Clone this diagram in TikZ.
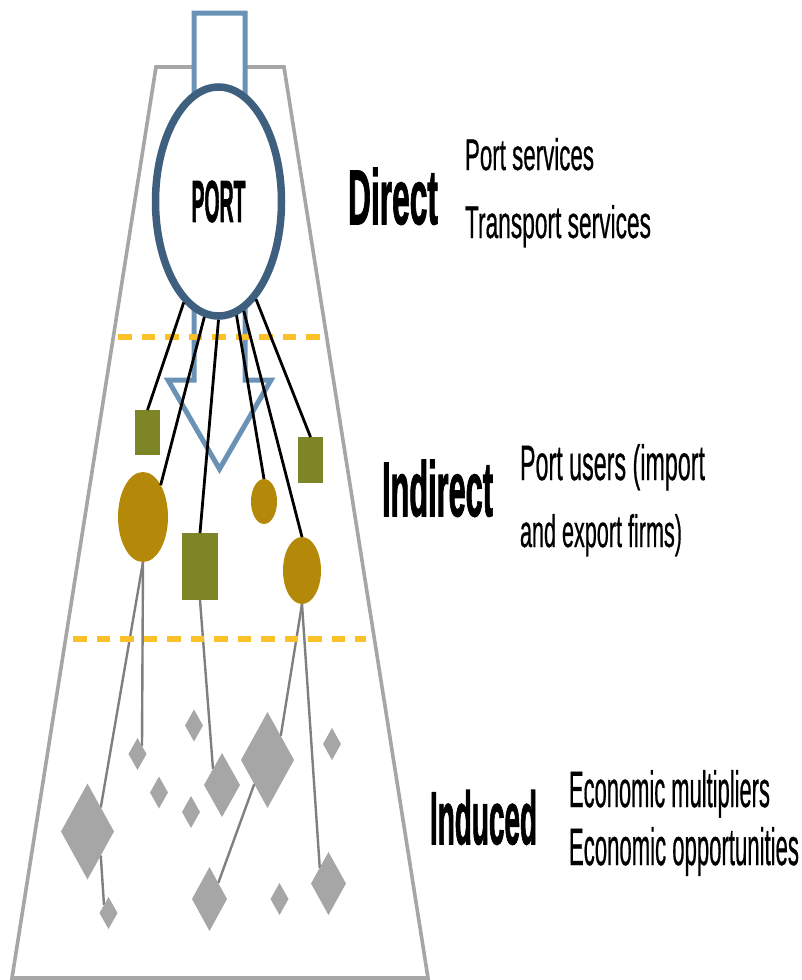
\documentclass[tikz,border=0pt]{standalone}
\usepackage{fontspec}
\setmainfont{Liberation Sans}
\newfontfamily\labfont[FakeBold=2]{Liberation Sans Bold}
\newfontfamily\txtfont[FakeBold=0.8]{Liberation Sans}
\usetikzlibrary{shapes.geometric}
\pgfdeclarelayer{back}
\pgfdeclarelayer{links}
\pgfsetlayers{back,links,main}
\definecolor{trapgray}{HTML}{A6A6A6}
\definecolor{linkgray}{HTML}{7F7F7F}
\definecolor{gemgray}{HTML}{A6A6A6}
\definecolor{portblue}{HTML}{3F5F7E}
\definecolor{arrowblue}{HTML}{6A92B6}
\definecolor{dashyellow}{HTML}{FBC02A}
\definecolor{olivegreen}{HTML}{7D8527}
\definecolor{goldbrown}{HTML}{B48808}
\newcommand{\fitbox}[3]{\resizebox{#1pt}{#2pt}{#3}}
\begin{document}
\begin{tikzpicture}[x=1pt,y=-1pt,
  sqbox/.style={rectangle, fill=olivegreen, draw=none, inner sep=0pt, outer sep=0pt},
  blob/.style={ellipse, fill=goldbrown, draw=none, inner sep=0pt, outer sep=0pt},
  gem/.style={diamond, fill=gemgray, draw=none, inner sep=0pt, outer sep=0pt},
  smallgem/.style={gem, minimum width=18pt, minimum height=32pt},
  feed/.style={black, line width=2.8pt},
  link/.style={linkgray, line width=2.4pt},
  levelline/.style={dashyellow, line width=5.5pt, dash pattern=on 13.5pt off 10pt},
  lab/.style={anchor=base west, inner sep=0pt, outer sep=0pt, font=\labfont},
  txt/.style={anchor=base west, inner sep=0pt, outer sep=0pt, font=\txtfont}
]
\useasboundingbox (0,0) rectangle (801,980);

\begin{pgfonlayer}{back}
\draw[trapgray, line width=3.6pt, line join=miter] (156,67) -- (284,67) -- (428,978) -- (12,978) -- cycle;
\end{pgfonlayer}

% big blue arrow
\draw[arrowblue, fill=white, line width=5pt, line join=miter]
  (194,13) -- (245,13) -- (245,380) -- (271,380) -- (219.5,469) -- (168,380) -- (194,380) -- cycle;

% level separators
\draw[levelline] (118,337) -- (323,337);
\draw[levelline] (73,639) -- (366,639);

% port
\node[ellipse, draw=portblue, fill=white, line width=7.5pt, minimum width=126pt, minimum height=229pt, inner sep=0pt, font=\labfont]
  (port) at (218.5,201.5) {\fitbox{54}{41}{PORT}};

% indirect actors
\node[sqbox, minimum width=25pt, minimum height=45pt] (sq1) at (147.5,432.5) {};
\node[sqbox, minimum width=25pt, minimum height=46pt] (sq2) at (310.5,460) {};
\node[sqbox, minimum width=36pt, minimum height=67pt] (bsq) at (200,566.5) {};
\node[blob, minimum width=50pt, minimum height=90pt] (e1) at (143,517) {};
\node[blob, minimum width=26pt, minimum height=45pt] (e2) at (264,501.5) {};
\node[blob, minimum width=38pt, minimum height=67pt] (e3) at (302,570.5) {};

\draw[feed] (port.251) -- (sq1.north);
\draw[feed] (port.263) -- (e1.61);
\draw[feed] (port.270) -- (bsq.north);
\draw[feed] (port.279) -- (e2.north);
\draw[feed] (port.283) -- (e3.north);
\draw[feed] (port.291) -- (sq2.north);

% induced diamonds
\node[smallgem] (dA) at (137.5,754) {};
\node[gem, minimum width=53pt, minimum height=96pt] (dB) at (87.5,831.5) {};
\node[smallgem] (dC) at (108.5,913) {};
\node[smallgem] (dD) at (194,725.5) {};
\node[smallgem] (dE) at (159,792.5) {};
\node[smallgem] (dF) at (191,812) {};
\node[gem, minimum width=36pt, minimum height=64pt] (dG) at (222,785) {};
\node[gem, minimum width=53pt, minimum height=96pt] (dH) at (267.5,760) {};
\node[smallgem] (dI) at (332,744) {};
\node[gem, minimum width=35pt, minimum height=64pt] (dJ) at (209.5,899) {};
\node[smallgem] (dK) at (279.5,899) {};
\node[gem, minimum width=35pt, minimum height=63pt] (dL) at (328.5,883.5) {};

\begin{pgfonlayer}{links}
\draw[link] (e1.south) -- (dA.north east);
\draw[link] (e1.south) -- (dB.north east);
\draw[link] (dB.south east) -- (dC.north west);
\draw[link] (bsq.south) -- (dG.north west);
\draw[link] (e3.south) -- (dH.north east);
\draw[link] (dH.south west) -- (dJ.north east);
\draw[link] (e3.south) -- (dL.north west);
\end{pgfonlayer}

% labels
\node[lab] (direct) at (348,224) {\fitbox{90}{56}{Direct}};
\node[txt] (d1) at (465,170) {\fitbox{129}{32}{Port services}};
\node[txt] (d2) at (465,238) {\fitbox{186}{33}{Transport services}};
\node[lab] (indirect) at (382,516) {\fitbox{111}{56}{Indirect}};
\node[txt] (i1) at (520,480) {\fitbox{185}{36}{Port users (import}};
\node[txt] (i2) at (520,547) {\fitbox{162}{33}{and export firms)}};
\node[lab] (induced) at (430,844) {\fitbox{107}{54}{Induced}};
\node[txt] (n1) at (569,807) {\fitbox{201}{37}{Economic multipliers}};
\node[txt] (n2) at (569,865) {\fitbox{230}{38}{Economic opportunities}};
\end{tikzpicture}
\end{document}
